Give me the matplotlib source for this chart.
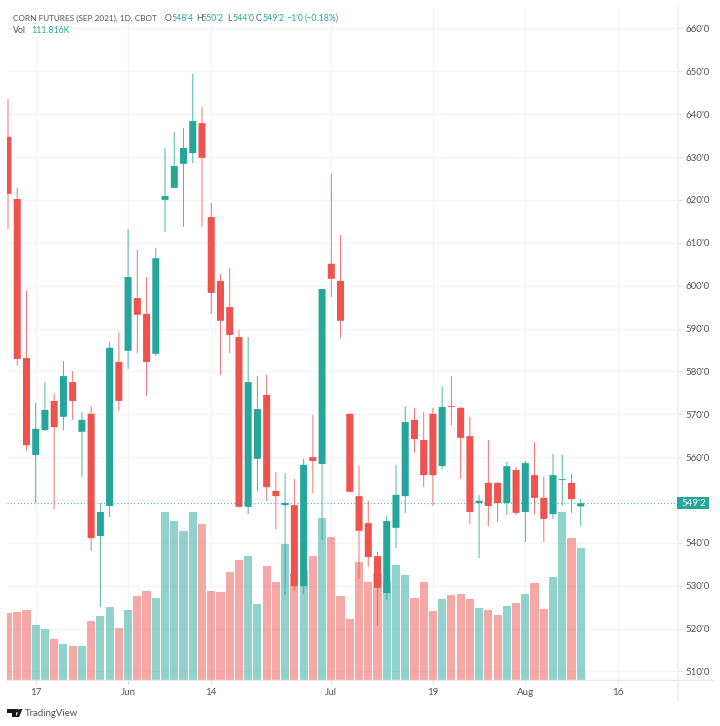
import matplotlib
matplotlib.use("Agg")
import numpy as np
import matplotlib.pyplot as plt
from matplotlib.lines import Line2D
from matplotlib.patches import Polygon, Circle, Rectangle

plt.rcParams['font.family'] = ['Lato', 'DejaVu Sans']

# daily candles, 63 sessions from May to Aug 2021
opens = [634.7, 620.2, 583.1, 560.5, 566.3, 573.1, 569.4, 577.5, 565.9, 570.1, 541.6, 548.6, 582.2,
         584.8, 597.1, 593.4, 584.1, 620.0, 622.8, 628.4, 630.9, 637.9, 616.0, 601.1, 595.0,
         588.0, 548.4, 559.6, 574.5, 552.1, 548.8, 548.8, 529.9, 560.0, 558.4, 605.1, 601.1,
         570.1, 550.9, 544.6, 536.9, 528.3, 543.5, 550.9, 568.7, 564.0, 570.1, 557.9, 571.9,
         571.5, 564.9, 549.3, 554.0, 554.0, 549.3, 557.0, 547.2, 555.8, 550.5, 546.7, 554.7,
         554.0, 548.5]
highs = [643.5, 622.8, 598.8, 572.6, 577.5, 574.7, 582.4, 580.1, 570.5, 571.9, 549.3, 586.9, 589.0,
         613.2, 608.3, 602.0, 608.8, 632.1, 635.8, 636.8, 649.4, 641.7, 619.3, 602.7, 604.1,
         589.7, 588.0, 578.9, 579.2, 556.5, 556.3, 554.9, 559.6, 569.8, 599.2, 626.0, 611.8,
         570.1, 557.9, 549.8, 537.9, 546.3, 558.2, 571.9, 571.5, 570.5, 571.5, 576.4, 578.9,
         571.7, 569.4, 551.2, 564.0, 554.2, 558.9, 557.7, 559.1, 563.5, 555.4, 560.7, 560.5,
         556.1, 550.25]
lows = [613.2, 581.3, 561.4, 549.3, 566.1, 547.9, 566.3, 568.7, 555.4, 538.1, 525.0, 546.0, 570.8,
        580.6, 584.3, 574.3, 583.6, 612.5, 622.8, 613.7, 628.6, 613.7, 593.4, 579.2, 584.3,
        548.4, 546.7, 552.1, 549.8, 543.2, 527.8, 528.8, 528.1, 551.6, 540.7, 597.4, 587.8,
        551.9, 531.6, 534.4, 520.6, 526.7, 538.8, 547.0, 561.0, 553.0, 548.6, 557.2, 567.5,
        554.9, 544.4, 536.5, 543.9, 544.9, 546.5, 546.5, 540.2, 546.7, 540.2, 545.6, 548.6,
        547.0, 544.0]
closes = [621.4, 582.9, 562.8, 566.6, 571.0, 567.0, 578.9, 573.1, 568.7, 541.1, 547.2, 585.5, 573.1,
          602.0, 593.2, 582.2, 606.4, 620.9, 627.9, 632.1, 638.4, 629.8, 598.3, 591.8, 588.5,
          548.4, 577.5, 571.2, 553.0, 550.9, 549.3, 529.9, 558.2, 559.1, 599.2, 601.6, 591.8,
          551.9, 542.8, 536.7, 529.5, 545.1, 551.2, 568.2, 564.2, 555.8, 555.8, 571.7, 571.7,
          564.5, 547.2, 549.8, 548.6, 549.3, 557.9, 547.0, 558.6, 550.5, 545.6, 555.8, 554.9,
          550.2, 549.25]
volumes = [56.7, 57.6, 59.3, 46.6, 43.2, 34.7, 30.5, 28.8, 28.8, 50.0, 54.2, 61.8, 44.0,
           59.3, 71.1, 75.4, 69.5, 142.3, 134.7, 126.2, 142.3, 132.1, 75.4, 74.5, 91.5,
           101.6, 105.0, 64.4, 96.6, 83.0, 115.2, 89.8, 93.2, 105.0, 137.2, 121.1, 71.1,
           51.7, 99.9, 83.0, 90.6, 83.9, 97.4, 88.9, 69.5, 83.0, 58.4, 68.6, 72.0,
           72.8, 68.6, 61.0, 59.3, 55.1, 62.7, 65.2, 72.8, 82.2, 60.1, 87.2, 142.3,
           120.3, 111.816]

price_ticks = list(range(510, 670, 10))
# the 550 label sits under the last price tag
price_labels = ["" if p == 550 else "%d'0" % p for p in price_ticks]
date_ticks = [3, 13, 22, 35, 46, 56, 66]
date_labels = ['17', 'Jun', '14', 'Jul', '19', 'Aug', '16']
last_price = 549.25

GREEN = '#26a69a'
RED = '#ef5350'
GRID = '#f4f5f7'
TEXT = '#50535e'
HEAD_SIZE = 6.3

W, H = 720, 726


def fx(x):
    return x / W


def fy(y):
    return 1 - y / H


fig = plt.figure(figsize=(W / 100, H / 100), dpi=100, facecolor='white')
rect = [fx(7), fy(680), (678 - 7) / W, (680 - 8) / H]

# grid and ticks at the bottom, then volume, then candles
ax = fig.add_axes(rect)
ax_vol = fig.add_axes(rect, sharex=ax)
ax_c = fig.add_axes(rect, sharex=ax, sharey=ax)
ax_vol.axis('off')
ax_c.axis('off')

x = np.arange(len(opens))
o = np.array(opens)
c = np.array(closes)
colors = [GREEN if c[i] >= o[i] else RED for i in x]

ax_vol.bar(x, volumes, width=0.88, color=colors, alpha=0.5, linewidth=0)
ax_vol.set_ylim(0, 569.2)

wicks = ax_c.vlines(x, lows, highs, colors=colors, linewidth=0.72, alpha=0.8)
wicks.set_snap(False)
bodies = ax_c.bar(x, c - o, bottom=o, width=0.76, color=colors, linewidth=0)
for b in bodies:
    b.set_snap(False)
ax_c.axhline(last_price, color=GREEN, linewidth=0.8, linestyle=(0, (1, 2)), alpha=0.8, zorder=1)

ax.set_xlim(-0.108, 72.53)
ax.set_ylim(508.01, 664.76)
ax.yaxis.tick_right()
ax.set_yticks(price_ticks)
ax.set_yticklabels(price_labels)
ax.set_xticks(date_ticks)
ax.set_xticklabels(date_labels)
ax.tick_params(axis='both', length=3, width=0.8, color='#dcdee3', labelcolor=TEXT, labelsize=7)
ax.tick_params(axis='y', pad=2.5)
ax.tick_params(axis='x', pad=3)
ax.grid(True, color=GRID, linewidth=1)
ax.set_axisbelow(True)
for s in ax.spines.values():
    s.set_visible(False)

# axis rails run past the plot area
fig.add_artist(Line2D([fx(678), fx(678)], [fy(8), fy(700)], color='#eff1f4', linewidth=1.6))
fig.add_artist(Line2D([fx(7), fx(713)], [fy(680), fy(680)], color='#e6e8ec', linewidth=1))

# last price tag
fig.add_artist(Rectangle((fx(677), fy(509)), 32 / W, 12 / H, color=GREEN, linewidth=0,
                         transform=fig.transFigure, zorder=5))
fig.text(fx(693.5), fy(503.2), "549'2", color='white', fontsize=7, ha='center', va='center', zorder=6)

# header
fig.text(fx(13), fy(18.5), 'CORN FUTURES (SEP 2021), 1D, CBOT', color=TEXT, fontsize=5.95, va='center')
header = [(165, 'O', TEXT), (171, "548'4", GREEN), (196, 'H', TEXT), (201.5, "550'2", GREEN),
          (227, 'L', TEXT), (232, "544'0", GREEN), (256, 'C', TEXT), (262, "549'2", GREEN),
          (286, '\u22121\'0', GREEN), (305, '(\u22120.18%)', GREEN)]
for px, s, col in header:
    fig.text(fx(px), fy(18.5), s, color=col, fontsize=HEAD_SIZE, va='center')
fig.text(fx(13), fy(30.5), 'Vol', color=TEXT, fontsize=HEAD_SIZE, va='center')
fig.text(fx(31), fy(30.5), '111.816K', color=GREEN, fontsize=HEAD_SIZE, va='center')

# TradingView mark
logo = '#131722'
fig.add_artist(Polygon([(fx(7), fy(709)), (fx(15.5), fy(709)), (fx(15.5), fy(717)), (fx(11.5), fy(717)),
                        (fx(11.5), fy(712.5)), (fx(7), fy(712.5))], closed=True, color=logo, linewidth=0,
                       transform=fig.transFigure))
fig.add_artist(Polygon([(fx(19.5), fy(709)), (fx(22.5), fy(709)), (fx(19), fy(717)), (fx(15.8), fy(717))],
                       closed=True, color=logo, linewidth=0, transform=fig.transFigure))
fig.add_artist(Circle((fx(17.3), fy(710.8)), 1.8 / W, color=logo, linewidth=0, transform=fig.transFigure))
fig.text(fx(25), fy(713.5), 'TradingView', color=TEXT, fontsize=6.9, va='center')

fig.savefig('out.png', dpi=100, facecolor='white')
